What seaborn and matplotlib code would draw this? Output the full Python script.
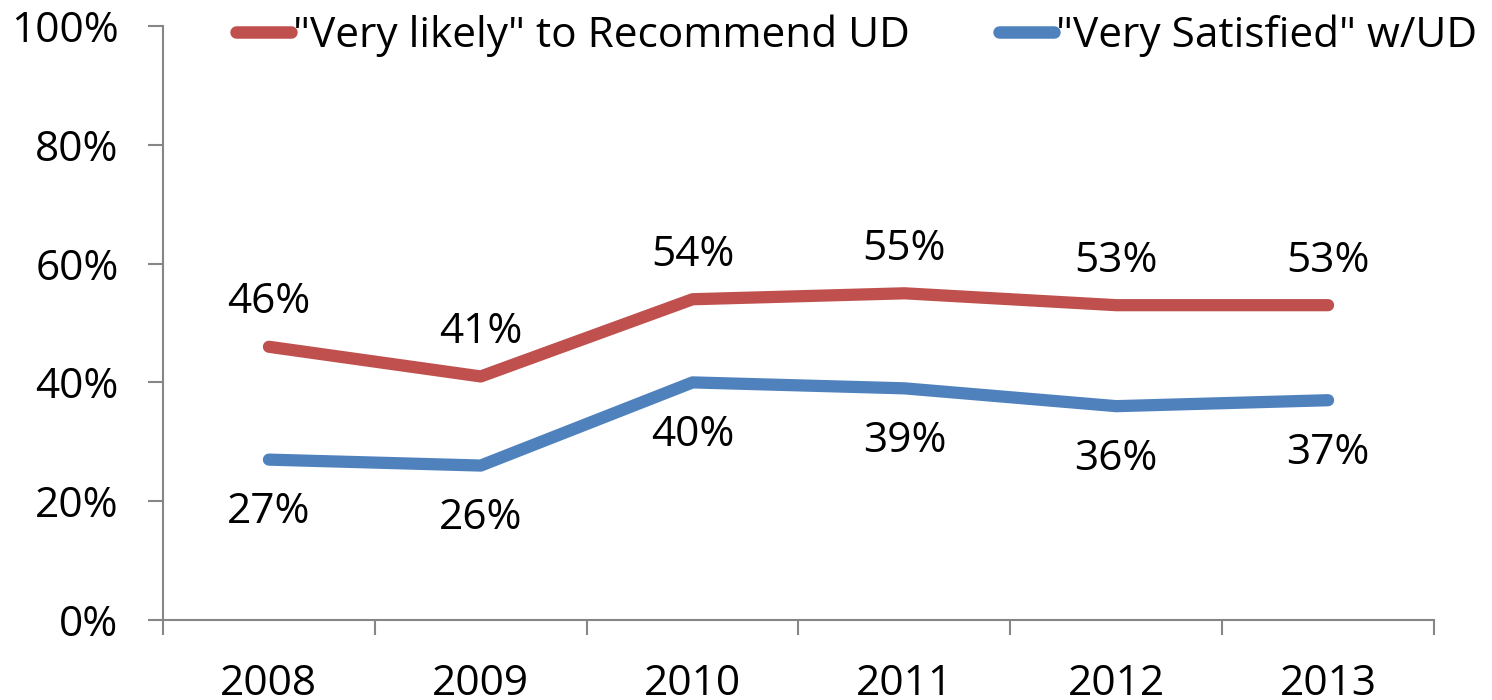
import matplotlib
matplotlib.use("Agg")
import matplotlib.pyplot as plt
import seaborn as sns
import pandas as pd

years = ["2008", "2009", "2010", "2011", "2012", "2013"]
recommend = [46, 41, 54, 55, 53, 53]
satisfied = [27, 26, 40, 39, 36, 37]
series_names = ['"Very likely" to Recommend UD', '"Very Satisfied" w/UD']
y_ticks = [0, 20, 40, 60, 80, 100]

sns.set_style("white")
plt.rcParams['font.family'] = ['Open Sans', 'DejaVu Sans']
plt.rcParams['text.color'] = 'black'
plt.rcParams['xtick.color'] = 'black'
plt.rcParams['ytick.color'] = 'black'
FS = 30.5

df = pd.DataFrame({
    "x": list(range(len(years))) * 2,
    "value": recommend + satisfied,
    "series": [series_names[0]] * len(years) + [series_names[1]] * len(years),
})

fig = plt.figure(figsize=(14.92, 7.0), dpi=100)
ax = fig.add_axes([163/1492, 80/700, (1434-163)/1492, (620-26)/700])
palette = {series_names[0]: "#C0504D", series_names[1]: "#4F81BD"}
sns.lineplot(data=df, x="x", y="value", hue="series", palette=palette,
             linewidth=8.8, ax=ax, legend=True)

for i, v in enumerate(recommend):
    ax.annotate(f"{v}%", (i, v), xytext=(0, 32), textcoords="offset points",
                ha="center", va="center", fontsize=FS, color="black")
for i, v in enumerate(satisfied):
    ax.annotate(f"{v}%", (i, v), xytext=(0, -38), textcoords="offset points",
                ha="center", va="center", fontsize=FS, color="black")

ax.set_xlim(-0.5, len(years) - 0.5)
ax.set_ylim(0, 100)
ax.set_yticks(y_ticks)
ax.set_yticklabels([f"{t}%" for t in y_ticks], fontsize=FS, color="black")
ax.set_xticks(range(len(years)))
ax.set_xticklabels(years, fontsize=FS, color="black")
ax.set_xticks([i - 0.5 for i in range(len(years) + 1)], minor=True)
ax.tick_params(axis="x", which="major", bottom=False, length=0, pad=31)
ax.tick_params(axis="x", which="minor", bottom=True, length=11, width=1.5,
               color="#868686", direction="out")
ax.tick_params(axis="y", which="major", left=True, length=11, width=1.5,
               color="#868686", direction="out", pad=21)
ax.set_xlabel("")
ax.set_ylabel("")
for s in ["top", "right"]:
    ax.spines[s].set_visible(False)
for s in ["left", "bottom"]:
    ax.spines[s].set_color("#868686")
    ax.spines[s].set_linewidth(1.5)

leg = ax.legend(loc="center left", bbox_to_anchor=(236/1492, 1 - 36/700),
                bbox_transform=fig.transFigure, ncol=2, frameon=False,
                fontsize=FS, handlelength=1.3, handletextpad=0.05, columnspacing=2.1,
                borderaxespad=0, borderpad=0)
for h in leg.get_lines():
    h.set_linewidth(9)
    h.set_solid_capstyle("round")
for t in leg.get_texts():
    t.set_color("black")

fig.savefig("out.png", dpi=100)
